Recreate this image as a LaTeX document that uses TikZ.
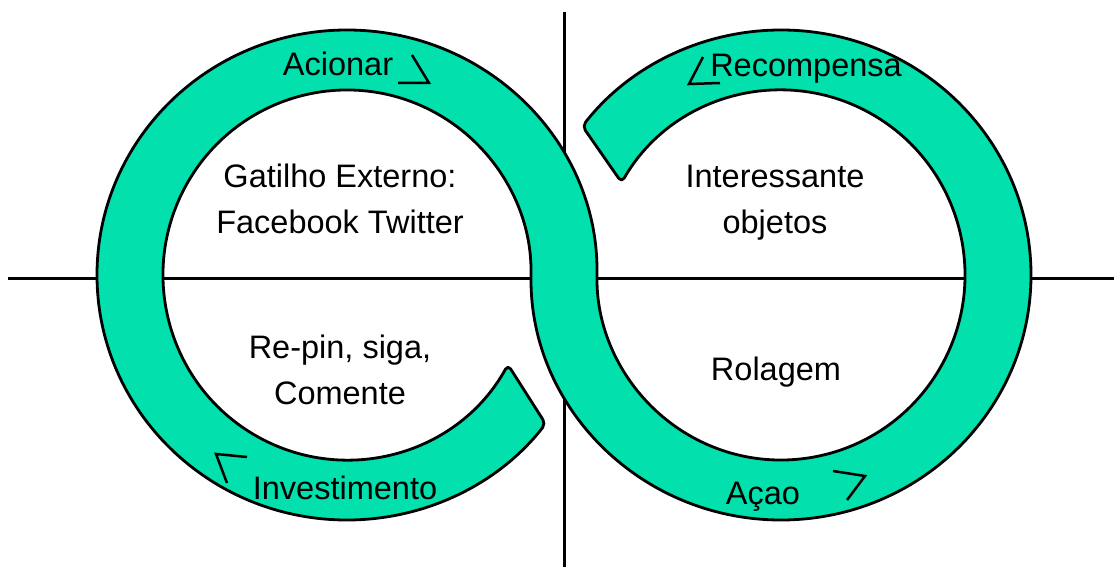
\documentclass[tikz,border=0pt]{standalone}
\usepackage{fontspec}
\setmainfont{Liberation Sans}
\usetikzlibrary{calc}
\definecolor{ringgreen}{RGB}{2,224,174}
\begin{document}
\begin{tikzpicture}[x=1pt,y=-1pt,
  axis/.style={line width=3pt,black},
  band/.style={fill=ringgreen,draw=black,line width=2.8pt,line join=round,rounded corners=5pt},
  chev/.style={line width=2.5pt,black,line join=miter},
  lbl/.style={font=\fontsize{32.5}{47}\selectfont,inner sep=0pt,anchor=base}]
\useasboundingbox (0,0) rectangle (1114,567);
\coordinate (Lc) at (347,275);
\coordinate (Rc) at (781,275);
% axes
\coordinate (vt) at (564,12);
\coordinate (vb) at (564,567);
\coordinate (hl) at (8,278);
\coordinate (hr) at (1114,278);
\draw[axis] (vt) -- (vb);
\draw[axis] (hl) -- (hr);
% band
\path[band] ($(Lc)+(29:184 and 185)$)
  arc[start angle=29, end angle=360, x radius=184, y radius=185]
  arc[start angle=180, end angle=-142.6, x radius=250, y radius=245]
  -- ($(Rc)+(-150:184 and 185)$)
  arc[start angle=-150, end angle=180, x radius=184, y radius=185]
  arc[start angle=0, end angle=-322.6, x radius=250, y radius=245]
  -- cycle;
% chevrons
\draw[chev] (412,55) -- (429,83) -- (398,83);
\draw[chev] (703,57) -- (689,84) -- (720,83);
\draw[chev] (247,457) -- (216,454) -- (227,483);
\draw[chev] (833,471) -- (865,476) -- (847,500);
% labels
\node[lbl] (acionar) at (338,76) {Acionar};
\node[lbl] (recomp) at (806,77) {Recompensa};
\node[lbl] (gatilho1) at (340,187) {Gatilho Externo:};
\node[lbl] (gatilho2) at (340,233) {Facebook Twitter};
\node[lbl] (interes1) at (775,187) {Interessante};
\node[lbl] (interes2) at (775,233) {objetos};
\node[lbl] (repin1) at (340,358) {Re-pin, siga,};
\node[lbl] (repin2) at (340,404) {Comente};
\node[lbl] (rolagem) at (776,380) {Rolagem};
\node[lbl] (invest) at (345,499) {Investimento};
\node[lbl] (acao) at (763,504) {Açao};
\end{tikzpicture}
\end{document}
